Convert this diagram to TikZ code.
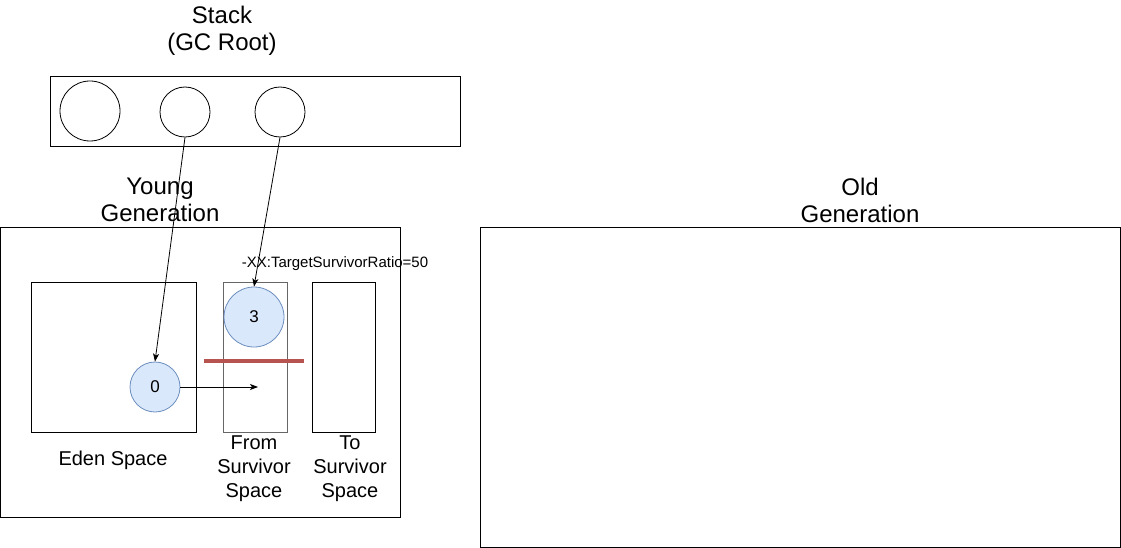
\documentclass[tikz,border=0pt]{standalone}
\usepackage{fontspec}
\setmainfont{Liberation Sans}
\usepackage{tikz}
\usetikzlibrary{arrows.meta}
\definecolor{bluchiaro}{HTML}{DAE8FC}
\definecolor{blubordo}{HTML}{6C8EBF}
\definecolor{rossoscuro}{HTML}{B85450}
\tikzstyle{scatola} = [rectangle,draw=black,line width=1pt,fill=none,inner sep=0pt]
\tikzstyle{cerchiovuoto} = [circle,draw=black,line width=0.8pt,fill=white,inner sep=0pt]
\tikzstyle{oggetto} = [circle,draw=blubordo,line width=0.8pt,fill=bluchiaro,inner sep=0pt,font=\fontsize{17}{20}\selectfont]
\tikzstyle{titolo} = [align=center,font=\fontsize{24}{27}\selectfont]
\tikzstyle{etichetta} = [align=center,font=\fontsize{20}{24}\selectfont]
\tikzstyle{arrow} = [line width=0.8pt,-{Stealth[length=8pt,width=6pt,inset=2pt]}]

\begin{document}
\begin{tikzpicture}
\tikzstyle{every node}=[font=\fontsize{20}{24}\selectfont]

\useasboundingbox (0pt,0pt) rectangle (1121pt,-548pt);

% 1px = 1pt, origin top left

\node (lblstack) [titolo,xshift=222pt,yshift=-30.5pt] {Stack\\(GC Root)};
\node (lblyoung) [titolo,xshift=160pt,yshift=-200pt] {Young\\Generation};
\node (lblold)   [titolo,xshift=860pt,yshift=-200pt] {Old\\Generation};

\node (stack) [scatola,minimum width=410pt,minimum height=70pt,xshift=255pt,yshift=-112pt] {};
\node (s1) [cerchiovuoto,minimum size=60pt,xshift=90pt,yshift=-111pt] {};
\node (s2) [cerchiovuoto,minimum size=50pt,xshift=185pt,yshift=-112pt] {};
\node (s3) [cerchiovuoto,minimum size=50pt,xshift=280pt,yshift=-112pt] {};

\node (young) [scatola,minimum width=399.5pt,minimum height=290pt,xshift=200.25pt,yshift=-372pt] {};
\node (old)   [scatola,minimum width=640pt,minimum height=320pt,xshift=800pt,yshift=-387pt] {};

\node (eden) [scatola,minimum width=165pt,minimum height=150pt,xshift=113.5pt,yshift=-357pt] {};
\node (from) [scatola,draw=black!60,minimum width=64pt,minimum height=150pt,xshift=255pt,yshift=-357pt] {};
\node (to)   [scatola,minimum width=63pt,minimum height=150pt,xshift=343.5pt,yshift=-357pt] {};

\node (lbleden) [etichetta,xshift=113pt,yshift=-460pt] {Eden Space};
\node (lblfrom) [etichetta,xshift=254pt,yshift=-469pt] {From\\Survivor\\Space};
\node (lblto)   [etichetta,xshift=350pt,yshift=-469pt] {To\\Survivor\\Space};

\node (ratio) [font=\fontsize{15}{18}\selectfont,xshift=335pt,yshift=-264pt] {-XX:TargetSurvivorRatio=50};

\coordinate (sogliasx) at (204pt,-361pt);
\coordinate (sogliadx) at (304pt,-361pt);
\draw[rossoscuro,line width=4pt] (sogliasx) -- (sogliadx);

\node (obj3) [oggetto,minimum size=60pt,xshift=254pt,yshift=-317pt] {3};
\node (obj0) [oggetto,minimum size=50pt,xshift=155pt,yshift=-387pt] {0};

\coordinate (dest) at (258pt,-387pt);

\draw[arrow] (s2.south) -- (obj0.north);
\draw[arrow] (s3.south) -- (obj3.north);
\draw[arrow] (obj0.east) -- (dest);

\end{tikzpicture}
\end{document}
